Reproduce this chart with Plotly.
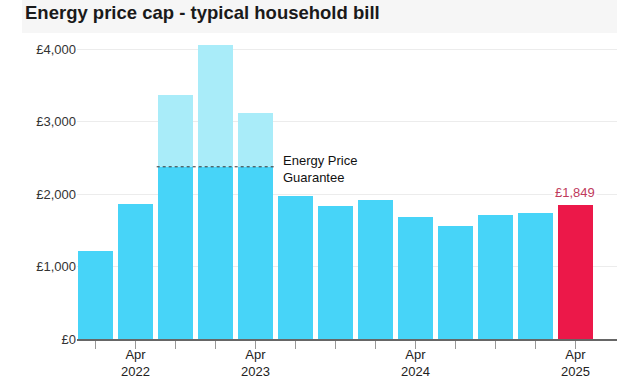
import plotly.graph_objects as go

# ---- data ----
periods = ["Jan 2022", "Apr 2022", "Oct 2022", "Jan 2023", "Apr 2023", "Jul 2023",
           "Oct 2023", "Jan 2024", "Apr 2024", "Jul 2024", "Oct 2024", "Jan 2025", "Apr 2025"]
cap_values = [1220, 1870, 3370, 4060, 3120, 1976, 1834, 1928, 1690, 1568, 1717, 1738, 1849]
epg_level = 2380
epg_periods = ["Oct 2022", "Jan 2023", "Apr 2023"]
tick_labels = ["", "Apr<br>2022", "", "", "Apr<br>2023", "", "", "", "Apr<br>2024", "", "", "", "Apr<br>2025"]
y_ticks = [0, 1000, 2000, 3000, 4000]
y_tick_labels = ["£0", "£1,000", "£2,000", "£3,000", "£4,000"]
latest_label = "£1,849"

BLUE = "#47d4f8"
LIGHT = "#a9ecf9"
RED = "#ec1849"

paid = [min(v, epg_level) if p in epg_periods else v for p, v in zip(periods, cap_values)]
excess = [v - epg_level if p in epg_periods else 0 for p, v in zip(periods, cap_values)]
colors = [BLUE] * (len(periods) - 1) + [RED]

fig = go.Figure()
fig.add_trace(go.Bar(x=periods, y=paid, marker=dict(color=colors, line=dict(width=0)),
                     hoverinfo="skip"))
fig.add_trace(go.Bar(x=periods, y=excess, marker=dict(color=LIGHT, line=dict(width=0)),
                     hoverinfo="skip"))

i0 = periods.index(epg_periods[0])
i1 = periods.index(epg_periods[-1])
fig.add_shape(type="line", xref="x", yref="y", x0=i0 - 0.47, x1=i1 + 0.51,
              y0=epg_level, y1=epg_level, line=dict(color="#333", width=1, dash="dot"))
fig.add_annotation(x=i1 + 0.64, y=epg_level, xref="x", yref="y", xanchor="left", yanchor="middle",
                   yshift=-2, text="Energy Price<br>Guarantee", showarrow=False, align="left",
                   font=dict(size=13, color="#111"))
fig.add_annotation(x=periods[-1], y=cap_values[-1], xref="x", yref="y", yanchor="bottom", yshift=3,
                   text=latest_label, showarrow=False, bgcolor="white",
                   font=dict(size=13, color="#c03a5c"))

# title band
fig.add_shape(type="rect", xref="paper", yref="paper", x0=-0.102, x1=1.0, y0=1.017, y1=1.13,
              fillcolor="#f6f6f6", line=dict(width=0), layer="below")
fig.add_annotation(xref="paper", yref="paper", x=-0.1, y=1.0847, xanchor="left", yanchor="middle",
                   text="<b>Energy price cap - typical household bill</b>", showarrow=False,
                   font=dict(size=18.5, color="#1a1a1a"))

fig.update_layout(
    width=633, height=380,
    margin=dict(l=77, r=16, t=38, b=41),
    barmode="stack", bargap=0.125, showlegend=False,
    plot_bgcolor="white", paper_bgcolor="white",
    font=dict(family="Liberation Sans, Arial, sans-serif", size=13, color="#333"),
    xaxis=dict(type="category", range=[-0.4625, 13.04], tickmode="array",
               tickvals=periods, ticktext=tick_labels, ticks="outside", ticklen=8,
               tickcolor="#999", showline=True, linecolor="#666", linewidth=1.5,
               showgrid=False, tickfont=dict(size=13, color="#222"), fixedrange=True,
               automargin=False, ticklabelstandoff=-5),
    yaxis=dict(range=[0, 4160], tickvals=y_ticks, ticktext=y_tick_labels,
               showgrid=True, gridcolor="#ececec", gridwidth=1, zeroline=False,
               tickfont=dict(size=13, color="#333"), ticks="", fixedrange=True,
               automargin=False),
)

fig.write_html("out.html", config={"displayModeBar": False},
               post_script="document.body.style.margin='0';")
